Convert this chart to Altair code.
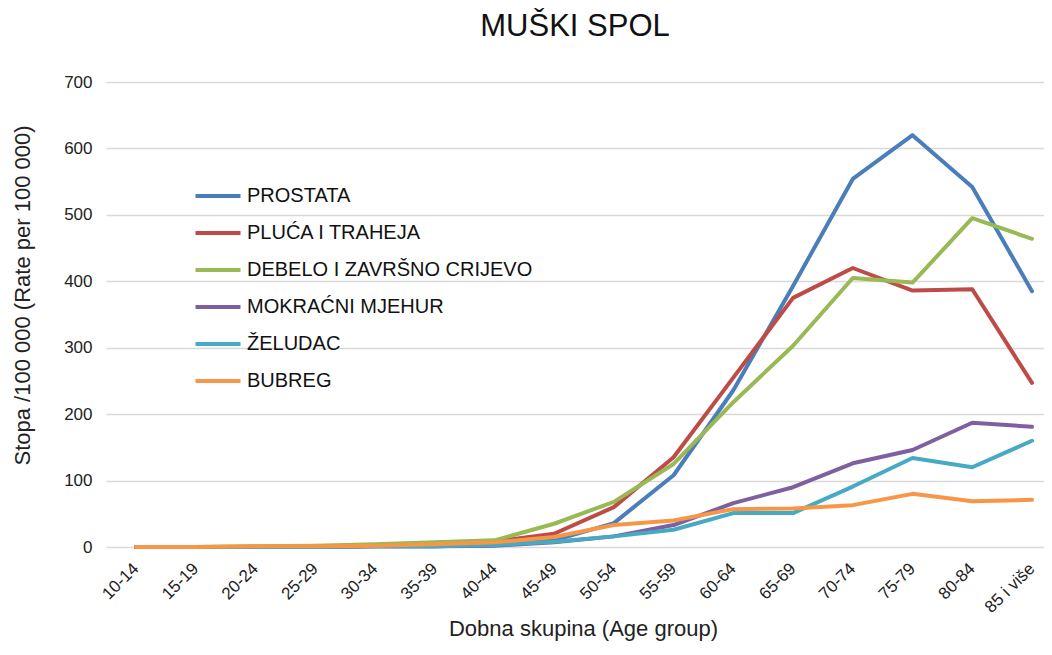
import altair as alt
import pandas as pd

age_groups = ["10-14", "15-19", "20-24", "25-29", "30-34", "35-39", "40-44", "45-49",
              "50-54", "55-59", "60-64", "65-69", "70-74", "75-79", "80-84", "85 i više"]

series_names = ["PROSTATA", "PLUĆA I TRAHEJA", "DEBELO I ZAVRŠNO CRIJEVO",
                "MOKRAĆNI MJEHUR", "ŽELUDAC", "BUBREG"]
series_colors = ["#4a7ebb", "#be4b48", "#98b954", "#7d60a0", "#46aac5", "#f79646"]

prostata = [0, 0, 0, 0, 1, 1, 3, 10, 36, 108, 236, 393, 554, 620, 542, 385]
pluca = [0, 0, 0, 1, 2, 4, 8, 20, 60, 135, 255, 375, 420, 386, 388, 247]
debelo = [0, 0, 1, 2, 4, 7, 10, 35, 68, 125, 218, 303, 405, 398, 495, 464]
mjehur = [0, 0, 0, 0, 1, 1, 2, 7, 16, 33, 66, 90, 126, 146, 187, 181]
zeludac = [0, 0, 0, 0, 1, 1, 3, 8, 16, 26, 51, 51, 91, 134, 120, 160]
bubreg = [0, 0, 1, 1, 2, 4, 7, 15, 33, 40, 57, 58, 63, 80, 69, 71]

all_values = [prostata, pluca, debelo, mjehur, zeludac, bubreg]

rows = []
for name, vals in zip(series_names, all_values):
    for i, (ag, v) in enumerate(zip(age_groups, vals)):
        rows.append({"Dobna skupina": ag, "Stopa": v, "Sijelo": name, "ord": i})
df = pd.DataFrame(rows)

font = "Liberation Sans"

chart = alt.Chart(df).mark_line(strokeWidth=4, strokeCap="round", strokeJoin="round").encode(
    x=alt.X("Dobna skupina:N", sort=age_groups,
            scale=alt.Scale(type="point", padding=0.3516, align=0.714),
            axis=alt.Axis(title="Dobna skupina (Age group)", labelAngle=-45,
                          labelFontSize=17, labelColor="#222", labelFont=font,
                          labelOffset=-6,
                          titleFontSize=22, titleFont=font, titleFontWeight="normal",
                          titleColor="#222", titleX=477, titleY=81,
                          titleBaseline="middle", titleAlign="center",
                          domain=False, ticks=False, grid=False, labelPadding=13)),
    y=alt.Y("Stopa:Q", scale=alt.Scale(domain=[0, 700], nice=False),
            axis=alt.Axis(title="Stopa /100 000 (Rate per 100 000)",
                          values=[0, 100, 200, 300, 400, 500, 600, 700],
                          labelFontSize=17, labelColor="#222", labelFont=font,
                          titleFontSize=22, titleFont=font, titleFontWeight="normal",
                          titleColor="#222", titleX=-84, titleY=213,
                          titleBaseline="middle", titleAlign="center",
                          domain=False, ticks=False, labelPadding=14,
                          grid=True, gridColor="#d9d9d9", gridWidth=1.5)),
    color=alt.Color("Sijelo:N", sort=series_names,
                    scale=alt.Scale(domain=series_names, range=series_colors),
                    legend=alt.Legend(title=None, orient="none", legendX=95, legendY=97,
                                      symbolType="M-1.5,0L1.5,0", symbolSize=900,
                                      symbolStrokeWidth=4, labelFontSize=20,
                                      labelFont=font, labelColor="#111", labelLimit=0,
                                      labelOffset=12, rowPadding=10)),
    order="ord:Q",
).properties(
    width=938,
    height=465,
    title=alt.TitleParams("MUŠKI SPOL", fontSize=31, font=font, fontWeight="normal",
                          color="#111", anchor="middle", offset=30),
    autosize=alt.AutoSizeParams(type="none"),
    padding={"left": 98, "top": 74, "right": 0, "bottom": 95},
).configure_view(stroke=None)

chart.save("out.html", embed_options={"renderer": "svg", "actions": False})
